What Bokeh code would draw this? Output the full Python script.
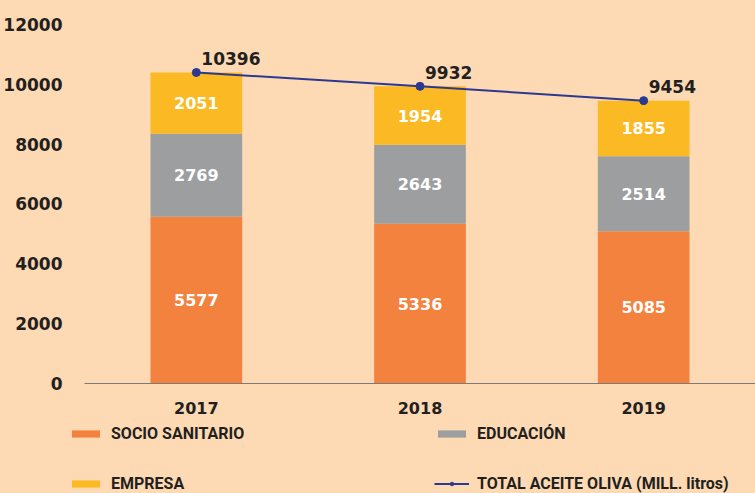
from bokeh.plotting import figure
from bokeh.layouts import column
from bokeh.models import (ColumnDataSource, Range1d, FactorRange, FixedTicker,
                          Legend, LegendItem)
from bokeh.core.properties import value
from bokeh.embed import file_html
from bokeh.resources import INLINE

years = ["2017", "2018", "2019"]
socio_sanitario = [5577, 5336, 5085]
educacion = [2769, 2643, 2514]
empresa = [2051, 1954, 1855]
total_aceite = [10396, 9932, 9454]
y_ticks = [0, 2000, 4000, 6000, 8000, 10000, 12000]

BG = "#FDDAB3"
ORANGE = "#F4823F"
GRAY = "#9C9E9F"
YELLOW = "#FBB923"
BLUE = "#2B3990"
DARK = "#231F20"
NUM_FONT = "DejaVu Sans"
LEG_FONT = "Roboto"

src = ColumnDataSource(dict(
    years=years, socio=socio_sanitario, educ=educacion, emp=empresa,
    socio_mid=[s / 2 for s in socio_sanitario],
    educ_mid=[s + e / 2 for s, e in zip(socio_sanitario, educacion)],
    emp_mid=[s + e + m / 2 for s, e, m in zip(socio_sanitario, educacion, empresa)],
    socio_lbl=[str(v) for v in socio_sanitario],
    educ_lbl=[str(v) for v in educacion],
    emp_lbl=[str(v) for v in empresa],
))
tsrc = ColumnDataSource(dict(years=years, total=total_aceite,
                             lbl=[str(v) for v in total_aceite]))

p = figure(width=755, height=420, x_range=FactorRange(*years, range_padding=0),
           y_range=Range1d(0, 12333), output_backend="svg", toolbar_location=None,
           min_border_left=84, min_border_right=0, min_border_top=14,
           min_border_bottom=37, styles={"background-color": BG})
p.frame_align = False
p.background_fill_color = BG
p.border_fill_color = BG
p.outline_line_color = None
p.xgrid.grid_line_color = None
p.ygrid.grid_line_color = None

bars = p.vbar_stack(["socio", "educ", "emp"], x="years", width=0.41, source=src,
                    color=[ORANGE, GRAY, YELLOW], line_color=None)

for col, lab in [("socio_mid", "socio_lbl"), ("educ_mid", "educ_lbl"), ("emp_mid", "emp_lbl")]:
    p.text(x="years", y=col, text=lab, source=src, text_align="center",
           text_baseline="middle", text_color="white", text_font=value(NUM_FONT),
           text_font_style="bold", text_font_size="16px")

line = p.line(x="years", y="total", source=tsrc, line_color=BLUE, line_width=2)
dots = p.scatter(x="years", y="total", source=tsrc, size=8, fill_color=BLUE,
                 line_color=BLUE)
p.text(x="years", y="total", text="lbl", source=tsrc, text_align="left",
       text_baseline="middle", x_offset=5, y_offset=-14, text_color=DARK,
       text_font=value(NUM_FONT), text_font_style="bold", text_font_size="17px")

p.yaxis.ticker = FixedTicker(ticks=y_ticks)
p.yaxis.axis_line_color = None
p.yaxis.major_tick_line_color = None
p.yaxis.minor_tick_line_color = None
p.yaxis.major_label_standoff = 16
p.yaxis.major_label_text_font = NUM_FONT
p.yaxis.major_label_text_font_style = "bold"
p.yaxis.major_label_text_font_size = "17px"
p.yaxis.major_label_text_color = DARK

p.xaxis.axis_line_color = "#7A7A7C"
p.xaxis.axis_line_width = 1.2
p.xaxis.major_tick_line_color = None
p.xaxis.minor_tick_line_color = None
p.xaxis.major_label_standoff = 12
p.xaxis.major_label_text_font = NUM_FONT
p.xaxis.major_label_text_font_style = "bold"
p.xaxis.major_label_text_font_size = "16px"
p.xaxis.major_label_text_color = DARK

# legend strip below the chart
lf = figure(width=755, height=73, x_range=Range1d(0, 1), y_range=Range1d(0, 1),
            output_backend="svg", toolbar_location=None,
            min_border_left=0, min_border_right=0, min_border_top=0,
            min_border_bottom=0, styles={"background-color": BG})
lf.frame_align = False
lf.axis.visible = False
lf.grid.visible = False
lf.outline_line_color = None
lf.background_fill_color = BG
lf.border_fill_color = BG

# hidden stand-in renderers (outside the visible range) that only feed the legend
hid = dict(x=[5], top=[5])
r_socio = lf.vbar(x=hid["x"], top=hid["top"], width=0.1, color=ORANGE, line_color=None)
r_educ = lf.vbar(x=hid["x"], top=hid["top"], width=0.1, color=GRAY, line_color=None)
r_emp = lf.vbar(x=hid["x"], top=hid["top"], width=0.1, color=YELLOW, line_color=None)
r_line = lf.line(x=[5, 6], y=[5, 6], line_color=BLUE, line_width=2)
r_dot = lf.scatter(x=hid["x"], y=hid["top"], size=8, fill_color=BLUE, line_color=BLUE)


def make_legend(items, loc):
    return Legend(items=items, location=loc, orientation="vertical",
                  padding=0, margin=0, spacing=31, glyph_width=35, glyph_height=9,
                  label_standoff=8, label_height=18,
                  label_text_font=LEG_FONT, label_text_font_style="bold",
                  label_text_font_size="16px", label_text_color=DARK,
                  background_fill_alpha=0, border_line_color=None)


leg1 = make_legend([LegendItem(label="SOCIO SANITARIO", renderers=[r_socio]),
                    LegendItem(label="EMPRESA", renderers=[r_emp])], (68, 0))
leg2 = make_legend([LegendItem(label="EDUCACIÓN", renderers=[r_educ]),
                    LegendItem(label="TOTAL ACEITE OLIVA (MILL. litros)",
                               renderers=[r_line, r_dot])], (434, 0))
lf.add_layout(leg1, "center")
lf.add_layout(leg2, "center")

layout = column(p, lf, spacing=0, styles={"background-color": BG})
open("out.html", "w").write(file_html(layout, INLINE))
